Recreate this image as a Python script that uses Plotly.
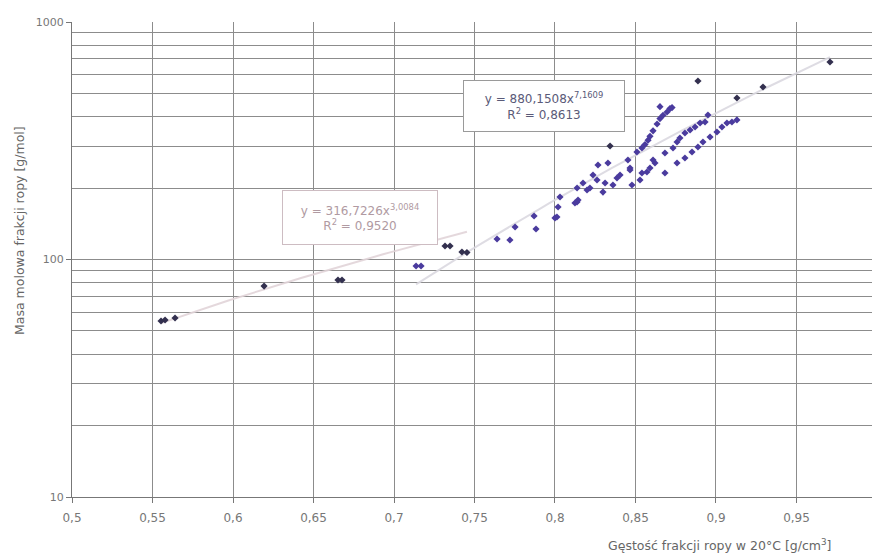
import plotly.graph_objects as go

# ---- data ----
dark_x = [0.5553, 0.5578, 0.5640, 0.6193, 0.6652, 0.6677, 0.7317, 0.7348, 0.7422, 0.7453,
          0.8342, 0.8888, 0.9130, 0.9292, 0.9708]
dark_y = [55.1, 55.6, 56.7, 77.3, 82.0, 82.0, 114.0, 114.0, 107.5, 107.0,
          300.6, 564.3, 478.6, 532.3, 678.6]

violet_x = [0.7137, 0.7168, 0.7640, 0.7720, 0.7752, 0.7870, 0.7882, 0.8000, 0.8012, 0.8019,
            0.8031, 0.8124, 0.8137, 0.8143, 0.8137, 0.8174, 0.8199, 0.8217, 0.8236, 0.8261,
            0.8267, 0.8298, 0.8311, 0.8329, 0.8360, 0.8385, 0.8404, 0.8453, 0.8466, 0.8478,
            0.8509, 0.8528, 0.8540, 0.8571, 0.8590, 0.8621, 0.8466, 0.8609, 0.8683,
            0.8540, 0.8559, 0.8578, 0.8590, 0.8609, 0.8634, 0.8652, 0.8671, 0.8696, 0.8714,
            0.8727, 0.8652,
            0.8683, 0.8733, 0.8758, 0.8776, 0.8807, 0.8839, 0.8870, 0.8901, 0.8932, 0.8950,
            0.8758, 0.8807, 0.8851, 0.8888, 0.8919, 0.8963, 0.9006, 0.9037, 0.9068, 0.9099,
            0.9130]
violet_y = [93.9, 93.9, 122.0, 120.8, 137.0, 152.5, 134.4, 149.6, 151.0, 166.4,
            183.3, 172.9, 174.6, 178.0, 200.0, 210.0, 196.1, 200.0, 226.9, 216.1,
            250.0, 192.3, 210.0, 254.9, 205.9, 220.4, 226.9, 262.4, 242.8, 205.9,
            283.5, 216.1, 231.3, 233.5, 242.8, 254.9, 238.2, 262.4, 231.3,
            295.0, 305.0, 318.0, 330.0, 348.0, 372.0, 392.0, 405.0, 418.0, 432.0,
            436.0, 440.0,
            280.8, 294.8, 312.4, 324.8, 340.9, 351.1, 361.4, 375.6, 379.3, 405.8,
            254.9, 267.6, 283.5, 297.7, 312.4, 328.0, 344.2, 361.4, 375.6, 379.3,
            386.9]

# trendline equations shown on the chart
upper_coef, upper_exp = 880.1508, 7.1609
lower_coef, lower_exp = 316.7226, 3.0084
upper_range = (0.7137, 0.9708)
lower_range = (0.5553, 0.7453)

x_ticks = [0.5, 0.55, 0.6, 0.65, 0.7, 0.75, 0.8, 0.85, 0.9, 0.95]
x_tick_text = ["0,5", "0,55", "0,6", "0,65", "0,7", "0,75", "0,8", "0,85", "0,9", "0,95"]
y_ticks = [10, 100, 1000]
y_minor = [20, 30, 40, 50, 60, 70, 80, 90, 200, 300, 400, 500, 600, 700, 800, 900]


def trend(coef, exp, rng, n=60):
    xs = [rng[0] + (rng[1] - rng[0]) * i / (n - 1) for i in range(n)]
    return xs, [coef * x ** exp for x in xs]


ux, uy = trend(upper_coef, upper_exp, upper_range)
lx, ly = trend(lower_coef, lower_exp, lower_range)

FONT = "DejaVu Sans, Liberation Sans, Arial, sans-serif"

fig = go.Figure()
fig.add_trace(go.Scatter(x=lx, y=ly, mode="lines",
                         line=dict(color="rgba(225,212,216,0.9)", width=2), hoverinfo="skip"))
fig.add_trace(go.Scatter(x=ux, y=uy, mode="lines",
                         line=dict(color="rgba(218,216,224,0.9)", width=2), hoverinfo="skip"))
fig.add_trace(go.Scatter(x=violet_x, y=violet_y, mode="markers",
                         marker=dict(symbol="diamond", size=5.5, color="#4a3b9e",
                                     line=dict(width=0))))
fig.add_trace(go.Scatter(x=dark_x, y=dark_y, mode="markers",
                         marker=dict(symbol="diamond", size=5.5, color="#33304f",
                                     line=dict(width=0))))

fig.update_layout(
    width=872, height=556,
    margin=dict(l=72, r=0, t=22, b=59),
    paper_bgcolor="white", plot_bgcolor="white",
    showlegend=False,
    font=dict(family=FONT, size=10, color="#666"),
    xaxis=dict(range=[0.5, 0.9969], tickvals=x_ticks, ticktext=x_tick_text,
               showgrid=True, gridcolor="#8c8c8c", gridwidth=1,
               showline=True, linecolor="#777", linewidth=1,
               ticks="outside", ticklen=5, tickcolor="#777", ticklabelstandoff=5,
               tickfont=dict(size=12, color="#777"), zeroline=False),
    yaxis=dict(type="log", range=[1, 3], tickvals=y_ticks, ticktext=["10", "100", "1000"],
               showgrid=True, gridcolor="#8c8c8c", gridwidth=1,
               showline=True, linecolor="#777", linewidth=1,
               ticks="outside", ticklen=5, tickcolor="#777",
               tickfont=dict(size=11, color="#777"), zeroline=False,
               minor=dict(tickvals=y_minor, showgrid=True, gridcolor="#8c8c8c",
                          gridwidth=1, ticklen=0)),
)

fig.add_annotation(xref="paper", yref="paper", x=0.59, y=0.823,
                   xanchor="center", yanchor="middle",
                   text="y = 880,1508x<sup>7,1609</sup><br>R<sup>2</sup> = 0,8613",
                   showarrow=False, align="center", width=152, height=42,
                   font=dict(size=12, color="#5a5a78"),
                   bgcolor="white", bordercolor="#9a9a9a", borderwidth=1, borderpad=4)
fig.add_annotation(xref="paper", yref="paper", x=0.36, y=0.589,
                   xanchor="center", yanchor="middle",
                   text="y = 316,7226x<sup>3,0084</sup><br>R<sup>2</sup> = 0,9520",
                   showarrow=False, align="center", width=146, height=45,
                   font=dict(size=12, color="#b09aa2"),
                   bgcolor="white", bordercolor="#cdbcc2", borderwidth=1, borderpad=4)

fig.add_annotation(xref="paper", yref="paper", x=-0.065, y=0.56,
                   xanchor="center", yanchor="middle",
                   text="Masa molowa frakcji ropy [g/mol]", textangle=-90,
                   showarrow=False, font=dict(size=12.5, color="#666"))
fig.add_annotation(xref="paper", yref="paper", x=0.809, y=-0.101,
                   xanchor="center", yanchor="middle",
                   text="Gęstość frakcji ropy w 20°C [g/cm<sup>3</sup>]",
                   showarrow=False, font=dict(size=12.5, color="#666"))

fig.write_html("out.html", config={"displayModeBar": False},
               post_script="document.body.style.margin='0px';document.body.style.overflow='hidden';")
